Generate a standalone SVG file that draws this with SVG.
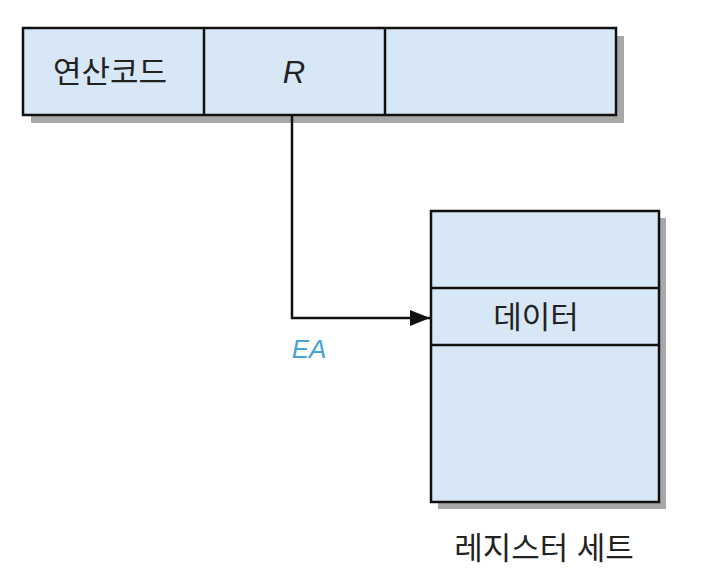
<svg xmlns="http://www.w3.org/2000/svg" width="704" height="580" viewBox="0 0 704 580">
<style>
.box{fill:#d7e7f6;stroke:#111;stroke-width:2.5}
.sh{fill:#a8a8a8}
.div{stroke:#111;stroke-width:2.5}
.t{font-family:"Liberation Sans","Noto Sans CJK KR",sans-serif;font-size:31px;fill:#222;text-anchor:middle}
.conn{fill:none;stroke:#111;stroke-width:2.5}
</style>
<defs>
<marker id="ah" markerWidth="20" markerHeight="16" refX="20" refY="8" orient="auto" markerUnits="userSpaceOnUse" viewBox="0 0 20 16">
<path d="M0,0 L20,8 L0,16 z" fill="#111"/>
</marker>
</defs>
<g id="instruction">
<rect class="sh" x="31" y="36" width="593" height="87"/>
<rect class="box" x="23" y="28" width="593" height="87"/>
<line class="div" x1="204" y1="28" x2="204" y2="115"/>
<line class="div" x1="385" y1="28" x2="385" y2="115"/>
<text class="t" x="110" y="83">연산코드</text>
<text class="t" x="294" y="83" font-size="25" font-style="italic">R</text>
</g>
<g id="registers">
<rect class="sh" x="438" y="218" width="228" height="291"/>
<rect class="box" x="431" y="211" width="228" height="291"/>
<line class="div" x1="431" y1="288" x2="659" y2="288"/>
<line class="div" x1="431" y1="345" x2="659" y2="345"/>
<text class="t" x="536" y="328">데이터</text>
<text class="t" x="544" y="559">레지스터 세트</text>
</g>
<g id="connectors">
<polyline class="conn" points="292,115 292,318 430,318" marker-end="url(#ah)" stroke-linejoin="miter"/>
<text x="309" y="358" font-family="Liberation Sans, sans-serif" font-size="26" font-style="italic" fill="#4aa3d8" text-anchor="middle">EA</text>
</g>
</svg>
